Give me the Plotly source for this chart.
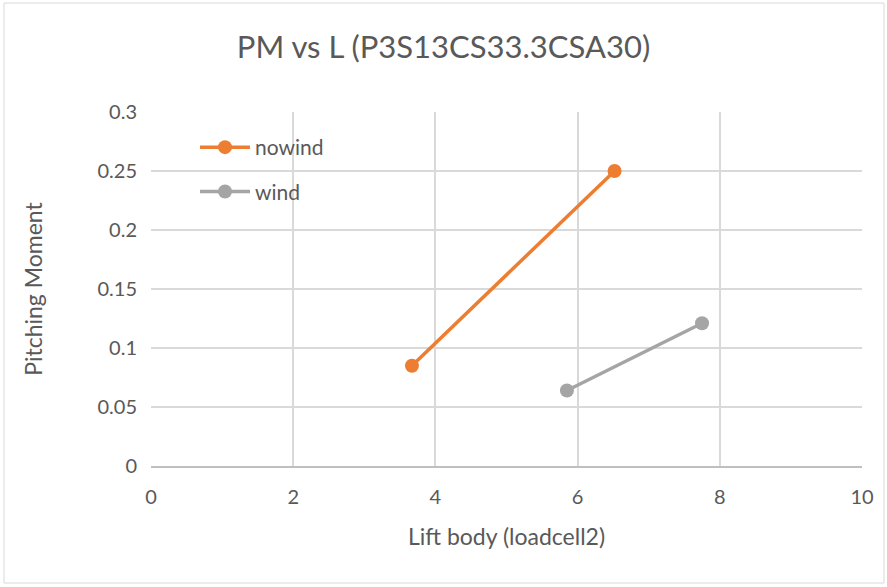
import plotly.graph_objects as go

nowind_x = [3.67, 6.52]
nowind_y = [0.085, 0.250]
wind_x = [5.85, 7.75]
wind_y = [0.064, 0.121]
x_ticks = [0, 2, 4, 6, 8, 10]
y_ticks = [0, 0.05, 0.1, 0.15, 0.2, 0.25, 0.3]
y_tick_labels = ["0", "0.05", "0.1", "0.15", "0.2", "0.25", "0.3"]

W, H = 887, 587
L, R, T, B = 151, 25, 112, 121
FONT = "Lato, 'Open Sans', sans-serif"
TXT = "#595959"

fig = go.Figure()
fig.add_trace(go.Scatter(x=nowind_x, y=nowind_y, mode="lines+markers", name="nowind",
                         legendgroup="a",
                         line=dict(color="#ED7D31", width=3.5),
                         marker=dict(color="#ED7D31", size=14)))
fig.add_trace(go.Scatter(x=wind_x, y=wind_y, mode="lines+markers", name="wind",
                         legendgroup="b",
                         line=dict(color="#A5A5A5", width=3.5),
                         marker=dict(color="#A5A5A5", size=14)))

pw = W - L - R
ph = H - T - B
fig.add_shape(type="rect", xref="paper", yref="paper",
              x0=(4 - L) / pw, x1=(884 - L) / pw,
              y0=(H - B - 583) / ph, y1=(H - B - 3) / ph,
              line=dict(color="#D9D9D9", width=1), layer="below")

fig.update_layout(
    width=W, height=H,
    margin=dict(l=L, r=R, t=T, b=B),
    paper_bgcolor="white", plot_bgcolor="white",
    font=dict(family=FONT, color=TXT, size=20),
    title=dict(text="PM vs L (P3S13CS33.3CSA30)", x=0.5, xanchor="center",
               y=1 - 47 / H, yanchor="middle",
               font=dict(size=31, color=TXT, family=FONT)),
    xaxis=dict(range=[0, 10], tickvals=x_ticks, showgrid=True, gridcolor="#D9D9D9",
               gridwidth=1.5, zeroline=False, showline=True, linecolor="#BFBFBF",
               linewidth=1.5, ticks="", ticklabelstandoff=12,
               tickfont=dict(size=20, color=TXT),
               title=dict(text="Lift body (loadcell2)", font=dict(size=23, color=TXT),
                          standoff=22)),
    yaxis=dict(range=[0, 0.3], tickvals=y_ticks, ticktext=y_tick_labels,
               showgrid=True, gridcolor="#D9D9D9", gridwidth=1.5, zeroline=False,
               showline=False, ticks="", ticklabelstandoff=13,
               tickfont=dict(size=20, color=TXT),
               title=dict(text="Pitching Moment", font=dict(size=23, color=TXT),
                          standoff=48)),
    legend=dict(x=(195 - L) / pw, y=1 - (127 - T) / ph, xanchor="left", yanchor="top",
                bgcolor="rgba(0,0,0,0)", font=dict(size=21, color=TXT),
                itemwidth=50, tracegroupgap=14, traceorder="grouped"),
    showlegend=True,
)

fig.write_html("out.html")
